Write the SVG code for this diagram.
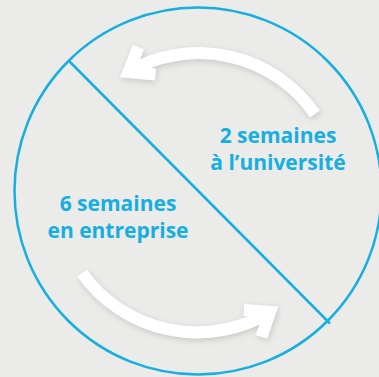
<svg xmlns="http://www.w3.org/2000/svg" width="379" height="377" viewBox="0 0 379 377">
  <defs>
    <filter id="sh" x="-20%" y="-20%" width="140%" height="140%">
      <feDropShadow dx="1" dy="2" stdDeviation="3" flood-color="#9a9a96" flood-opacity="0.45"/>
    </filter>
    <style>
      .ring { fill: none; stroke: #17aee0; stroke-width: 2.5; }
      .arrow { fill: none; stroke: #ffffff; stroke-width: 12; stroke-linecap: butt; stroke-linejoin: miter; }
      .lbl { font-family: "Open Sans", "Noto Sans", "Liberation Sans", sans-serif; font-weight: 700; font-size: 21px; fill: #17aee0; text-anchor: middle; }
    </style>
  </defs>
  <rect width="379" height="377" fill="#ebebe9"/>
  <g id="circle">
    <circle class="ring" cx="198" cy="191" r="183.5"/>
  </g>
  <g id="connectors">
    <line class="ring" x1="69" y1="61" x2="330" y2="323.5"/>
    <g filter="url(#sh)">
      <path class="arrow" d="M315,114 A141,141 0 0 0 128.5,72"/>
      <polyline class="arrow" points="138.5,47 128.5,72 155.5,74.5"/>
    </g>
    <g filter="url(#sh)">
      <path class="arrow" d="M82,273 A141,141 0 0 0 270,312"/>
      <polyline class="arrow" points="244,310 270,312 261.5,337"/>
    </g>
  </g>
  <g id="universite">
    <text class="lbl" x="278" y="143">2 semaines</text>
    <text class="lbl" x="278" y="170">à l’université</text>
  </g>
  <g id="entreprise">
    <text class="lbl" x="118" y="211">6 semaines</text>
    <text class="lbl" x="118" y="238">en entreprise</text>
  </g>
</svg>
